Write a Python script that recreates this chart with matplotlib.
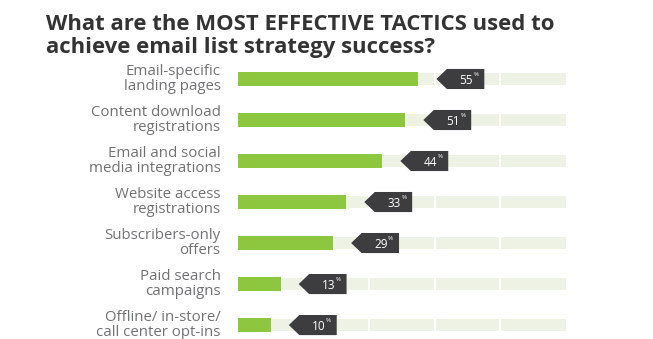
import matplotlib.pyplot as plt
from matplotlib.patches import Polygon

# data
labels = ['Email-specific\nlanding pages', 'Content download\nregistrations',
          'Email and social\nmedia integrations', 'Website access\nregistrations',
          'Subscribers-only\noffers', 'Paid search\ncampaigns',
          'Offline/ in-store/\ncall center opt-ins']
values = [55, 51, 44, 33, 29, 13, 10]
title_lines = ['What are the MOST EFFECTIVE TACTICS used to',
               'achieve email list strategy success?']

green = '#8dc63f'
track = '#edf2e4'
dark = '#3d3d3f'
label_col = '#707173'

W, H = 653, 339
fig = plt.figure(figsize=(W / 100, H / 100), dpi=100)

# axes covers track area: x 238..566 px, y 58..339 px
ax = fig.add_axes([238 / W, 0, 328 / W, (339 - 58) / H])
ax.set_xlim(0, 100)
ax.set_ylim(6.34, -0.512)
ax.axis('off')

rows = list(range(len(values)))
ax.barh(rows, [100] * len(values), height=0.29, color=track, zorder=1)
for r in rows:
    ax.vlines([20, 40, 60, 80], r - 0.16, r + 0.16, color='white', lw=1.5, zorder=2)
ax.barh(rows, values, height=0.32, color=green, zorder=3)

for r, v, lab in zip(rows, values, labels):
    x0 = v + 5.5
    tip = 3.2
    body = 14.6
    hh = 0.245
    poly = Polygon([(x0, r), (x0 + tip, r - hh), (x0 + body, r - hh),
                    (x0 + body, r + hh), (x0 + tip, r + hh)],
                   closed=True, facecolor=dark, edgecolor='none', zorder=4)
    ax.add_patch(poly)
    ax.text(x0 + tip + 7.9, r + 0.03, f'{v}', color='white', fontsize=8.5,
            ha='right', va='center', family='Open Sans', zorder=5)
    ax.text(x0 + tip + 8.1, r - 0.11, '%', color='white', fontsize=4.5,
            ha='left', va='center', family='Open Sans', zorder=5)
    ax.text(-5.3, r, lab, color=label_col, fontsize=10.8, ha='right',
            va='center', family='Open Sans', linespacing=0.92)

# title: two lines, first line sized to span ~46..556 px
t1 = fig.text(46 / W, 1 - 30 / H, title_lines[0], fontsize=15, fontweight='bold',
              color='#333333', family='Open Sans', ha='left', va='baseline')
renderer = fig.canvas.get_renderer()
w = t1.get_window_extent(renderer).width
fs = 15 * 510 / w
t1.set_fontsize(fs)
fig.text(46 / W, 1 - 53 / H, title_lines[1], fontsize=fs, fontweight='bold',
         color='#333333', family='Open Sans', ha='left', va='baseline')

fig.savefig('out.png', dpi=100)
